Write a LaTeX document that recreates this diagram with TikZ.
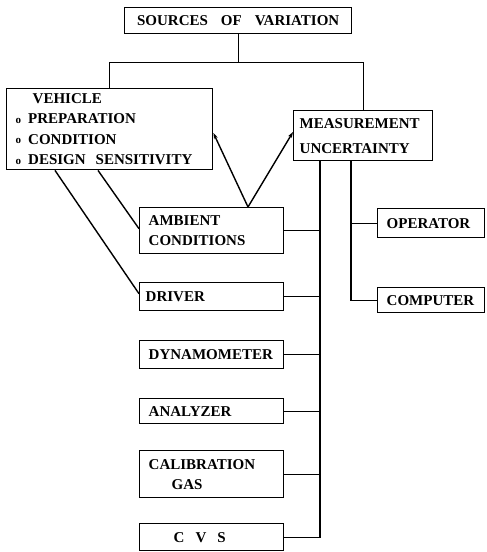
\documentclass[tikz,border=0pt]{standalone}
\usepackage{fontspec}
\setmainfont{Liberation Serif}
\usetikzlibrary{arrows.meta,calc}
\newcommand{\bul}{\raisebox{0.5pt}{\fontsize{11}{11}\selectfont o}\hspace{7pt}}
\begin{document}
\begin{tikzpicture}[x=1pt,y=-1pt,
  box/.style={draw, line width=1.4pt, anchor=north west, inner xsep=9pt, inner ysep=0pt,
    align=left, font=\bfseries\fontsize{15}{20}\selectfont},
  ln/.style={line width=1.4pt},
  arr/.style={line width=1.4pt, -{Stealth[length=6pt,width=4pt]}}]
\useasboundingbox (0,0) rectangle (487,552);
\node[box, align=center, minimum width=227pt, text width=209pt, minimum height=26pt] (src) at (124,7)
  {SOURCES\hspace{13pt}OF\hspace{13pt}VARIATION};
\node[box, inner xsep=9pt, minimum width=206pt, text width=188pt, minimum height=81pt,
  font=\bfseries\fontsize{15}{20.5}\selectfont] (veh) at (6,88)
  {\hspace*{17pt}VEHICLE\\ \bul PREPARATION\\ \bul CONDITION\\ \bul DESIGN\hspace{10pt}SENSITIVITY};
\node[box, inner xsep=6pt, minimum width=139pt, text width=127pt, minimum height=50pt,
  font=\bfseries\fontsize{15}{25}\selectfont] (meas) at (293,110)
  {MEASUREMENT\\UNCERTAINTY};
\node[box, minimum width=144pt, text width=126pt, minimum height=46pt] (amb) at (139,207)
  {AMBIENT\\CONDITIONS};
\node[box, minimum width=107pt, text width=89pt, minimum height=29pt] (op) at (377,208)
  {OPERATOR};
\node[box, minimum width=107pt, text width=89pt, minimum height=25pt] (comp) at (377,287)
  {COMPUTER};
\node[box, inner xsep=6pt, minimum width=144pt, text width=132pt, minimum height=28pt] (drv) at (139,282)
  {DRIVER};
\node[box, minimum width=144pt, text width=126pt, minimum height=28pt] (dyn) at (139,340)
  {DYNAMOMETER};
\node[box, minimum width=144pt, text width=126pt, minimum height=25pt] (ana) at (139,398)
  {ANALYZER};
\node[box, minimum width=144pt, text width=126pt, minimum height=47pt] (cal) at (139,450)
  {CALIBRATION\\\hspace*{23pt}GAS};
\node[box, minimum width=144pt, text width=126pt, minimum height=27pt] (cvs) at (139,523)
  {\hspace*{25pt}C\hspace{11pt}V\hspace{11pt}S};
% tree from the top
\coordinate (jn) at ($(src.south)+(0,28)$);
\draw[ln] (src.south) -- (jn);
\draw[ln] (veh.north) |- (jn) -| (meas.north);
% buses
\coordinate (b1) at ($(meas.south west)+(27,0)$);
\coordinate (b2) at ($(meas.south west)+(58,0)$);
\draw[ln] (b1) |- (cvs.east);
\draw[ln] (amb.east) -- (amb.east -| b1);
\draw[ln] (drv.east) -- (drv.east -| b1);
\draw[ln] (dyn.east) -- (dyn.east -| b1);
\draw[ln] (ana.east) -- (ana.east -| b1);
\draw[ln] (cal.east) -- (cal.east -| b1);
\draw[ln] (b2) |- (comp.west);
\draw[ln] (op.west) -- (op.west -| b2);
% arrows from ambient
\coordinate (apex) at ($(amb.north west)+(109,0)$);
\draw[arr] (apex) -- ($(veh.north east)+(0,45)$);
\draw[arr] (apex) -- ($(meas.north west)+(0,22)$);
% lines from vehicle
\draw[ln] ($(veh.south west)+(49,0)$) -- ($(drv.west)+(0,-3)$);
\draw[ln] ($(veh.south west)+(92,0)$) -- ($(amb.west)+(0,-2)$);
\end{tikzpicture}
\end{document}
